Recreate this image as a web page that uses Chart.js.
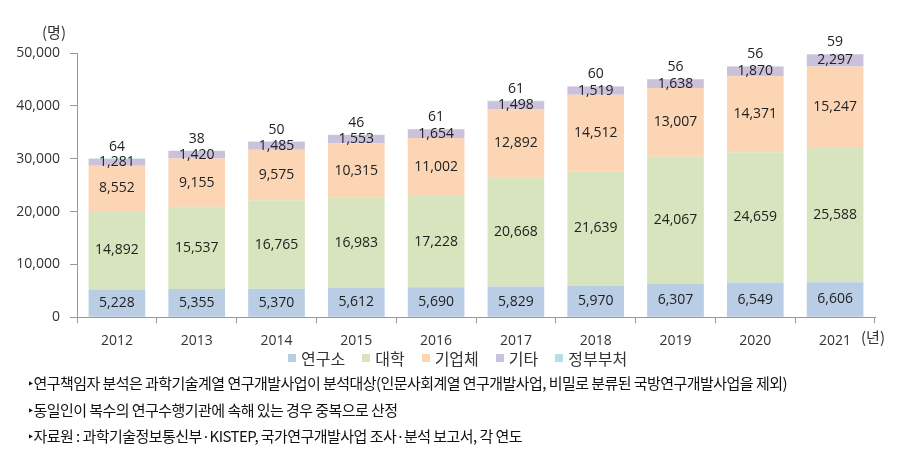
<!DOCTYPE html>
<html>
<head>
<meta charset="utf-8">
<script src="https://cdn.jsdelivr.net/npm/chart.js@4"></script>
<style>
    body { margin: 0; background: #fff; }
    #wrap { position: relative; width: 912px; height: 456px; }
    #legend {
        position: absolute; left: 288px; top: 347px; display: flex; gap: 17px;
        font-family: 'Noto Sans CJK KR', sans-serif; font-size: 16px; color: #333;
        line-height: 22px;
    }
    #legend span { display: flex; align-items: center; }
    #legend i { display: inline-block; width: 8px; height: 8px; margin-right: 5px; }
    #notes {
        position: absolute; left: 28px; top: 370px;
        font-family: 'Noto Sans CJK KR', sans-serif; font-size: 15px;
        letter-spacing: -0.55px; color: #111; line-height: 26.5px;
    }
</style>
</head>
<body>
<div id="wrap">
    <canvas id="chart" width="912" height="372"></canvas>
    <div id="legend"></div>
    <div id="notes">
        <div>‣연구책임자 분석은 과학기술계열 연구개발사업이 분석대상(인문사회계열 연구개발사업, 비밀로 분류된 국방연구개발사업을 제외)</div>
        <div>‣동일인이 복수의 연구수행기관에 속해 있는 경우 중복으로 산정</div>
        <div>‣자료원 : 과학기술정보통신부·KISTEP, 국가연구개발사업 조사·분석 보고서, 각 연도</div>
    </div>
</div>
<script>
const years = ['2012', '2013', '2014', '2015', '2016', '2017', '2018', '2019', '2020', '2021'];
const institutes = [5228, 5355, 5370, 5612, 5690, 5829, 5970, 6307, 6549, 6606];
const universities = [14892, 15537, 16765, 16983, 17228, 20668, 21639, 24067, 24659, 25588];
const companies = [8552, 9155, 9575, 10315, 11002, 12892, 14512, 13007, 14371, 15247];
const others = [1281, 1420, 1485, 1553, 1654, 1498, 1519, 1638, 1870, 2297];
const government = [64, 38, 50, 46, 61, 61, 60, 56, 56, 59];

const fmt = v => v.toLocaleString('en-US');

// value labels: inside segments, last series above the stack
const valueLabels = {
    id: 'valueLabels',
    afterDatasetsDraw(chart) {
        const ctx = chart.ctx;
        ctx.save();
        ctx.font = '14px "Open Sans", sans-serif';
        ctx.fillStyle = '#222';
        ctx.textAlign = 'center';
        ctx.textBaseline = 'middle';
        chart.data.datasets.forEach((ds, i) => {
            chart.getDatasetMeta(i).data.forEach((bar, j) => {
                const y = i === 4 ? bar.y - 12 : (bar.y + bar.base) / 2;
                ctx.fillText(fmt(ds.data[j]), bar.x, y);
            });
        });
        ctx.restore();
    }
};

const unitLabels = {
    id: 'unitLabels',
    afterDraw(chart) {
        const ctx = chart.ctx;
        ctx.save();
        ctx.fillStyle = '#333';
        ctx.textBaseline = 'middle';
        ctx.textAlign = 'center';
        ctx.font = '15px "Noto Sans CJK KR", sans-serif';
        ctx.fillText('(명)', 54, 32);
        ctx.fillText('(년)', 873, 337);
        ctx.restore();
    }
};

const chart = new Chart(document.getElementById('chart'), {
    type: 'bar',
    data: {
        labels: years,
        datasets: [
            { label: '연구소', data: institutes, backgroundColor: '#b9cde5' },
            { label: '대학', data: universities, backgroundColor: '#d7e4bd' },
            { label: '기업체', data: companies, backgroundColor: '#fcd5b5' },
            { label: '기타', data: others, backgroundColor: '#ccc1da' },
            { label: '정부부처', data: government, backgroundColor: '#b7dee8' }
        ]
    },
    options: {
        responsive: false,
        animation: false,
        devicePixelRatio: 1,
        layout: { padding: { top: 53, right: 37, left: 0, bottom: 14 } },
        datasets: { bar: { barPercentage: 0.71, categoryPercentage: 1 } },
        plugins: {
            legend: { display: false },
            tooltip: { enabled: false }
        },
        scales: {
            x: {
                stacked: true,
                grid: { drawOnChartArea: false, tickLength: 6, color: '#999' },
                border: { color: '#999' },
                ticks: { color: '#333', padding: 9, font: { family: '"Open Sans", sans-serif', size: 14 } }
            },
            y: {
                stacked: true,
                min: 0,
                max: 50000,
                afterFit(scale) { scale.width = 77; },
                grid: { drawOnChartArea: false, tickLength: 7, color: '#999' },
                border: { color: '#999' },
                ticks: {
                    stepSize: 10000,
                    color: '#333',
                    padding: 10,
                    font: { family: '"Open Sans", sans-serif', size: 14 },
                    callback: v => fmt(v)
                }
            }
        }
    },
    plugins: [valueLabels, unitLabels]
});

// legend built from the chart's datasets
document.getElementById('legend').innerHTML = chart.data.datasets
    .map(ds => `<span><i style="background:${ds.backgroundColor}"></i>${ds.label}</span>`)
    .join('');
</script>
</body>
</html>
